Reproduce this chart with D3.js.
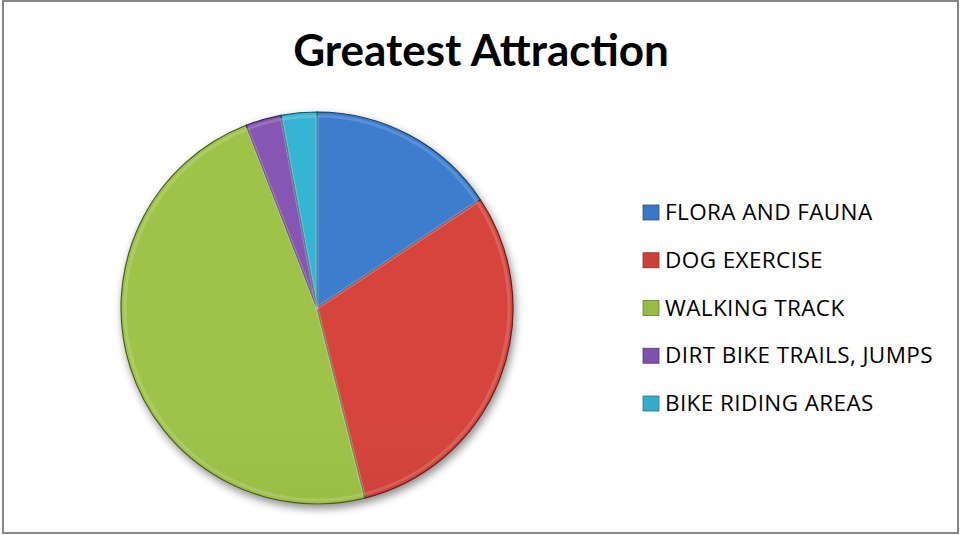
<!DOCTYPE html>
<html>
<head>
<meta charset="utf-8">
<script src="https://cdn.jsdelivr.net/npm/d3@7"></script>
<style>
  body { margin: 0; background: #fff; }
  .title { font-family: Lato, "Open Sans", sans-serif; }
  .legend text { font-family: "Open Sans", sans-serif; letter-spacing: 0.4px; }
</style>
</head>
<body>
<div id="chart"></div>
<script>
var categories = ["FLORA AND FAUNA", "DOG EXERCISE", "WALKING TRACK", "DIRT BIKE TRAILS, JUMPS", "BIKE RIDING AREAS"];
var values = [16, 31, 49, 3, 3];
var colors = ["#3b78c4", "#cc423a", "#98bb46", "#7f52ab", "#33adc9"];

var width = 961, height = 535;
var cx = 317, cy = 308, radius = 196;

var svg = d3.select("#chart").append("svg")
    .attr("width", width)
    .attr("height", height);

// outer frame
svg.append("rect")
    .attr("x", 3).attr("y", 1)
    .attr("width", width - 6).attr("height", height - 3)
    .attr("fill", "#fff")
    .attr("stroke", "#868686")
    .attr("stroke-width", 2);

// title
svg.append("text")
    .attr("class", "title")
    .attr("x", 481).attr("y", 66)
    .attr("text-anchor", "middle")
    .attr("font-size", 44)
    .attr("font-weight", "bold")
    .attr("fill", "#000")
    .text("Greatest Attraction");

var defs = svg.append("defs");

var shadow = defs.append("filter").attr("id", "shadow")
    .attr("x", "-20%").attr("y", "-20%").attr("width", "140%").attr("height", "140%");
shadow.append("feDropShadow")
    .attr("dx", 2).attr("dy", 4)
    .attr("stdDeviation", 4)
    .attr("flood-color", "#000")
    .attr("flood-opacity", 0.45);

// vertical shading per slice colour
colors.forEach(function (c, i) {
    var g = defs.append("linearGradient")
        .attr("id", "grad" + i)
        .attr("gradientUnits", "userSpaceOnUse")
        .attr("x1", 0).attr("y1", cy - radius)
        .attr("x2", 0).attr("y2", cy + radius);
    g.append("stop").attr("offset", "0%").attr("stop-color", d3.color(c).brighter(0.12));
    g.append("stop").attr("offset", "100%").attr("stop-color", d3.color(c).darker(0.3));
});

var pie = d3.pie().sort(null).value(function (d) { return d; });
var arcs = pie(values);

var arc = d3.arc().innerRadius(0).outerRadius(radius);
var innerArc = d3.arc().innerRadius(0).outerRadius(radius - 4);

var pieG = svg.append("g")
    .attr("transform", "translate(" + cx + "," + cy + ")");

pieG.append("g")
    .attr("filter", "url(#shadow)")
    .selectAll("path")
    .data(arcs)
    .enter().append("path")
    .attr("d", arc)
    .attr("fill", function (d, i) { return "url(#grad" + i + ")"; })
    .attr("stroke", function (d, i) { return d3.color(colors[i]).darker(2); })
    .attr("stroke-width", 1.2);

// soft bevel highlight along the slice edges
pieG.append("g")
    .selectAll("path")
    .data(arcs)
    .enter().append("path")
    .attr("d", innerArc)
    .attr("fill", "none")
    .attr("stroke", "#fff")
    .attr("stroke-opacity", 0.15)
    .attr("stroke-width", 3)
    .attr("stroke-linejoin", "round");

// legend
var legendY = d3.scalePoint().domain(categories).range([212, 403]);

var legend = svg.append("g").attr("class", "legend").selectAll("g")
    .data(categories)
    .enter().append("g")
    .attr("transform", function (d) { return "translate(643," + legendY(d) + ")"; });

legend.append("rect")
    .attr("x", 0).attr("y", -7)
    .attr("width", 16).attr("height", 15)
    .attr("fill", function (d, i) { return colors[i]; })
    .attr("stroke", function (d, i) { return d3.color(colors[i]).darker(1); })
    .attr("stroke-width", 0.8);

legend.append("text")
    .attr("x", 22).attr("y", 0)
    .attr("dy", "0.36em")
    .attr("font-size", 22.5)
    .attr("fill", "#000")
    .text(function (d) { return d; });
</script>
</body>
</html>
